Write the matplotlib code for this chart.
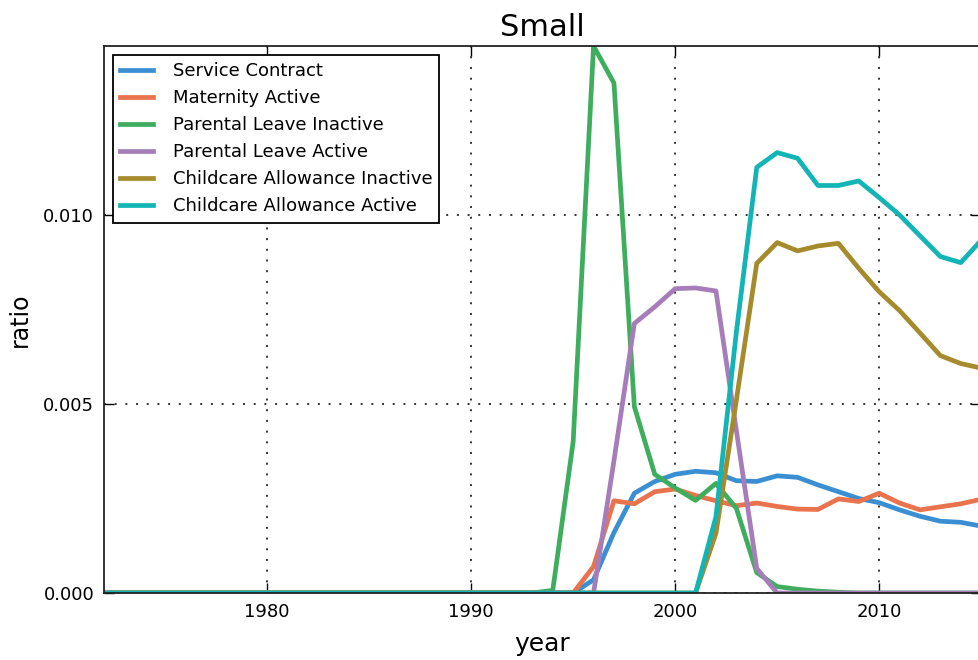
#!/usr/bin/env python3
import numpy as np
import matplotlib
matplotlib.use("Agg")
import matplotlib.pyplot as plt

# ----- data: yearly ratios, 1972..2015 -----
years = np.arange(1972, 2016)

service_contract = [0.0] * 24 + [
    0.00035, 0.0016, 0.00264, 0.00295, 0.00314, 0.00322, 0.00318, 0.00297,
    0.00295, 0.0031, 0.00306, 0.00286, 0.00268, 0.0025, 0.00239, 0.0022,
    0.00203, 0.0019, 0.00187, 0.00177]

maternity_active = [0.0] * 24 + [
    0.0007, 0.00244, 0.00236, 0.00268, 0.00275, 0.00258, 0.00244, 0.00231,
    0.00238, 0.00229, 0.00222, 0.00221, 0.00249, 0.00242, 0.00264, 0.00238,
    0.0022, 0.00228, 0.00236, 0.00248]

parental_leave_inactive = [0.0] * 22 + [
    0.00007, 0.004, 0.01447, 0.01349, 0.00493, 0.00314, 0.00278, 0.00245,
    0.0029, 0.00224, 0.00054, 0.00017, 0.0001, 0.00005, 0.00002,
    0.0, 0.0, 0.0, 0.0, 0.0, 0.0, 0.0]

parental_leave_active = [0.0] * 25 + [
    0.0035, 0.00713, 0.00757, 0.00805, 0.00807, 0.00799, 0.0043, 0.00065,
    0.0, 0.0, 0.0, 0.0, 0.0, 0.0, 0.0, 0.0, 0.0, 0.0, 0.0]

childcare_inactive = [0.0] * 30 + [
    0.00158, 0.0051, 0.00872, 0.00927, 0.00905, 0.00918, 0.00925, 0.00859,
    0.00797, 0.00747, 0.00688, 0.00628, 0.00607, 0.00595]

childcare_active = [0.0] * 30 + [
    0.00202, 0.0069, 0.01126, 0.01165, 0.0115, 0.01078, 0.01078, 0.0109,
    0.01046, 0.0100, 0.00945, 0.0089, 0.00874, 0.00933]

labels = ["Service Contract", "Maternity Active", "Parental Leave Inactive",
          "Parental Leave Active", "Childcare Allowance Inactive",
          "Childcare Allowance Active"]
series = [service_contract, maternity_active, parental_leave_inactive,
          parental_leave_active, childcare_inactive, childcare_active]
colors = ["#3A8FD3", "#E8734C", "#3EAE5E", "#A67DB8", "#A58B2B", "#12B4B5"]

# ----- figure -----
fig = plt.figure(figsize=(9.79, 6.6), dpi=100)
# right spine sits just past the edge of the canvas
ax = fig.add_axes([0.1062, 0.1015, 0.896, 0.8288])

for y, lab, c in zip(series, labels, colors):
    ax.plot(years, y, color=c, lw=3.4, label=lab)

ymax = max(max(s) for s in series)
ax.set_xlim(years[0], years[-1])
ax.set_ylim(0, ymax)

ax.set_xticks([1980, 1990, 2000, 2010])
ax.set_yticks([0.0, 0.005, 0.010])
ax.yaxis.set_major_formatter(matplotlib.ticker.FormatStrFormatter("%.3f"))
ax.tick_params(direction="in", length=7, width=1, labelsize=13,
               top=True, right=True, pad=7)
ax.grid(True, color="#333333", linestyle=(0, (1, 4.5)), lw=1.4)

for sp in ax.spines.values():
    sp.set_linewidth(1.3)
    sp.set_color("#222222")

ax.set_title("Small", fontsize=22, pad=7)
ax.set_xlabel("year", fontsize=18, labelpad=8)
ax.set_ylabel("ratio", fontsize=17, labelpad=8)

leg = ax.legend(loc="upper left", fontsize=13, fancybox=False,
                edgecolor="black", framealpha=1, handlelength=1.8,
                handletextpad=1.1)
leg.get_frame().set_linewidth(1.3)

fig.savefig("out.png", dpi=100)
